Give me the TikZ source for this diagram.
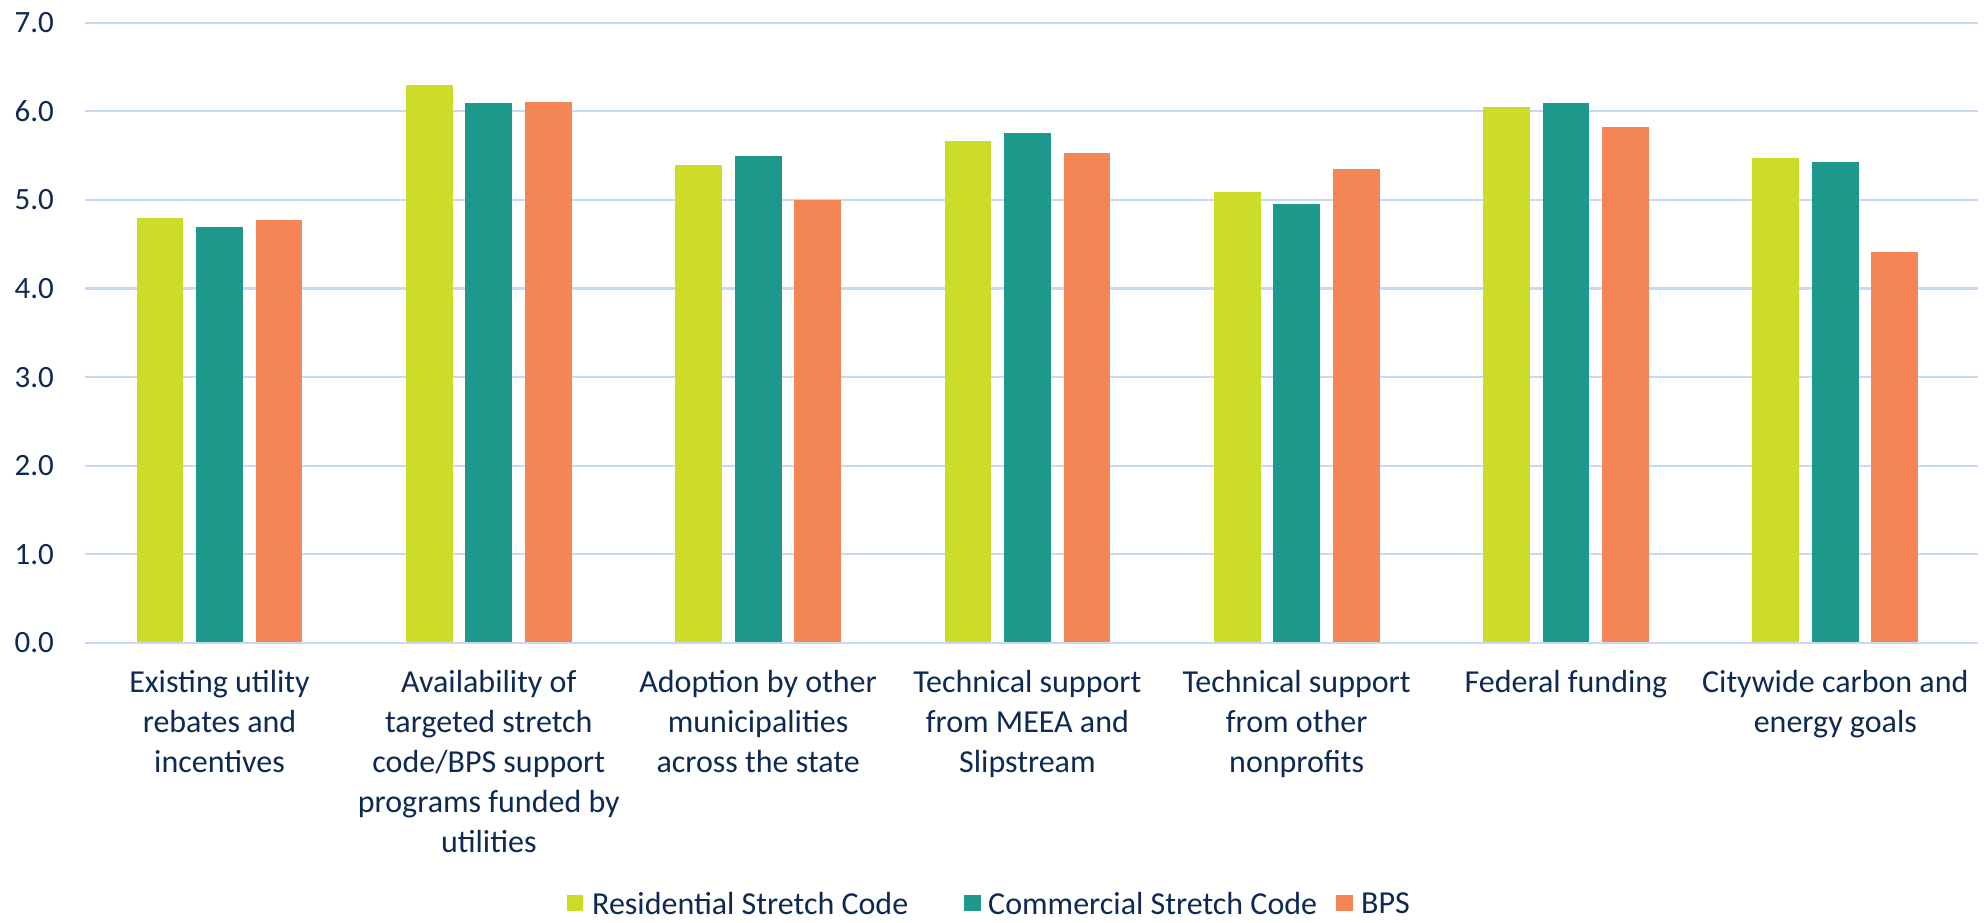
\documentclass[tikz,border=0pt]{standalone}
\usepackage{fontspec}
\setmainfont{Carlito}
\definecolor{rescol}{HTML}{CDDC29}
\definecolor{comcol}{HTML}{1C998A}
\definecolor{bpscol}{HTML}{F48656}
\definecolor{gridcol}{HTML}{C6DAF5}
\definecolor{txtcol}{HTML}{0E2A52}
\tikzset{
  gridline/.style={draw=gridcol, line width=2.2pt},
  ylab/.style={anchor=east, inner sep=0pt, text=txtcol, font=\fontsize{31}{38}\selectfont},
  catlab/.style={anchor=north, inner sep=0pt, align=center, text=txtcol, font=\fontsize{32}{40}\selectfont},
  leglab/.style={anchor=west, inner sep=0pt, text=txtcol, font=\fontsize{32}{40}\selectfont},
  legbox/.style={minimum size=16.5pt, inner sep=0pt},
}
\begin{document}
\begin{tikzpicture}[x=1pt,y=-1pt]
\useasboundingbox (0,0) rectangle (1984,922);
\fill[white] (0,0) rectangle (1984,922);
% grid and y labels
\foreach \v in {0,...,7}{
  \draw[gridline] (85,{642.8-88.57*\v}) -- (1978,{642.8-88.57*\v});
  \node[ylab] (y\v) at (54,{642.8-88.57*\v}) {\v.0};
}
% bars
\foreach \i/\r/\c/\b in {0/4.8/4.7/4.77, 1/6.3/6.1/6.11, 2/5.4/5.5/5.0, 3/5.67/5.76/5.53, 4/5.09/4.95/5.35, 5/6.05/6.1/5.82, 6/5.47/5.43/4.41}{
  \pgfmathsetmacro\cx{219.5+269.3*\i}
  \fill[rescol] ({\cx-59.5-23.4},641.7) rectangle ({\cx-59.5+23.4},{642.8-88.57*\r});
  \fill[comcol] ({\cx-23.4},641.7) rectangle ({\cx+23.4},{642.8-88.57*\c});
  \fill[bpscol] ({\cx+59.5-23.4},641.7) rectangle ({\cx+59.5+23.4},{642.8-88.57*\b});
}
% category labels
\node[catlab] (c1) at (219.5,670) {Existing utility\\rebates and\\incentives};
\node[catlab] (c2) at (488.8,670) {Availability of\\targeted stretch\\code/BPS support\\programs funded by\\utilities};
\node[catlab] (c3) at (758.1,670) {Adoption by other\\municipalities\\across the state};
\node[catlab] (c4) at (1027.4,670) {Technical support\\from MEEA and\\Slipstream};
\node[catlab] (c5) at (1296.7,670) {Technical support\\from other\\nonprofits};
\node[catlab] (c6) at (1566.0,670) {Federal funding};
\node[catlab] (c7) at (1835.3,670) {Citywide carbon and\\energy goals};
% legend
\node[legbox, fill=rescol] (l1) at (575,903) {};
\node[leglab] (t1) at (592,903) {Residential Stretch Code};
\node[legbox, fill=comcol] (l2) at (972.5,903) {};
\node[leglab] (t2) at (988,903) {Commercial Stretch Code};
\node[legbox, fill=bpscol] (l3) at (1344.5,903) {};
\node[leglab] (t3) at (1361,903) {BPS};
\end{tikzpicture}
\end{document}
